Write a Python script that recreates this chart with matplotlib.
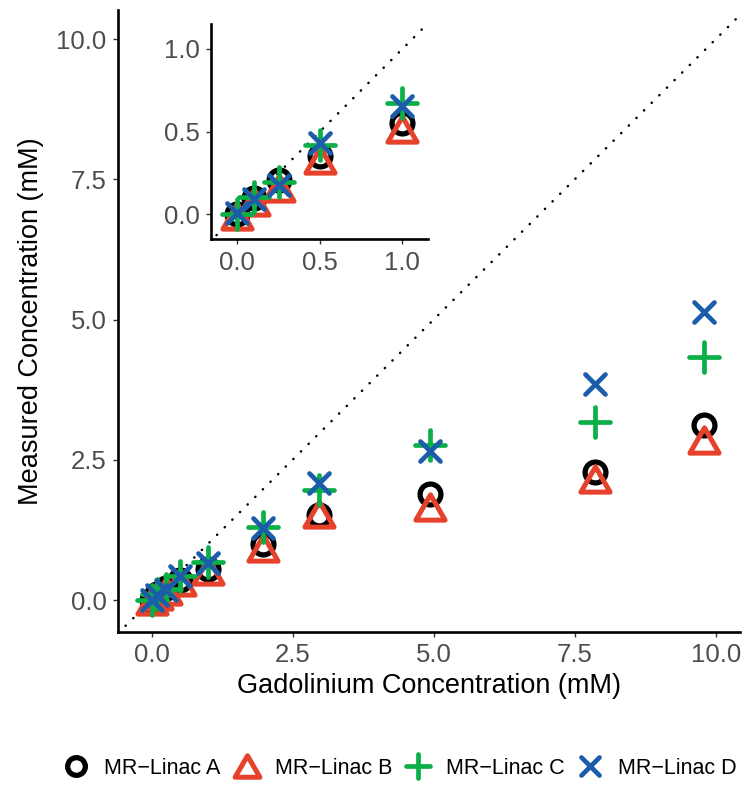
import matplotlib
matplotlib.use("Agg")
import matplotlib.pyplot as plt
from matplotlib.markers import MarkerStyle
from matplotlib.path import Path
import numpy as np

plt.rcParams['font.family'] = ['Liberation Sans', 'DejaVu Sans']

# ---- data ----
gd_conc = [0.0, 0.1, 0.25, 0.5, 1.0, 1.98, 2.96, 4.94, 7.86, 9.8]
linac_a = [0.0, 0.10, 0.21, 0.35, 0.55, 1.00, 1.52, 1.89, 2.28, 3.12]
linac_b = [-0.01, 0.076, 0.16, 0.33, 0.515, 0.93, 1.53, 1.65, 2.16, 2.86]
linac_c = [0.0, 0.106, 0.194, 0.42, 0.675, 1.31, 1.97, 2.76, 3.18, 4.33]
linac_d = [0.006, 0.09, 0.18, 0.43, 0.655, 1.28, 2.08, 2.66, 3.85, 5.13]
labels = ["MR\u2212Linac A", "MR\u2212Linac B", "MR\u2212Linac C", "MR\u2212Linac D"]
main_ticks = [0.0, 2.5, 5.0, 7.5, 10.0]
inset_ticks = [0.0, 0.5, 1.0]

colors = ["#000000", "#E5412B", "#0BAF47", "#1B5DAA"]

tri_path = Path([(0, 0.75), (-0.866, -0.75), (0.866, -0.75), (0, 0.75)],
                [Path.MOVETO, Path.LINETO, Path.LINETO, Path.CLOSEPOLY])
markers = [
    dict(marker=MarkerStyle('o'), ms=15, mew=3.8),
    dict(marker=MarkerStyle(tri_path, joinstyle='round'), ms=21, mew=3.6),
    dict(marker=MarkerStyle('+', capstyle='round'), ms=21, mew=3.4),
    dict(marker=MarkerStyle('x', capstyle='round'), ms=15, mew=3.4),
]
series = [linac_a, linac_b, linac_c, linac_d]

W, H = 743, 785
fig = plt.figure(figsize=(W / 100, H / 100), dpi=100)

TICK_FS = 18.5
TITLE_FS = 19.5


def px_axes(l, t, r, b):
    return fig.add_axes([l / W, 1 - b / H, (r - l) / W, (b - t) / H])


def style(ax):
    for s in ["top", "right"]:
        ax.spines[s].set_visible(False)
    for s in ["left", "bottom"]:
        ax.spines[s].set_linewidth(1.9)
        ax.spines[s].set_color("black")
    ax.tick_params(axis="both", length=3.6, width=1.0, color="#333333",
                   labelsize=TICK_FS, labelcolor="#4D4D4D", pad=4.5)


def draw(ax, lo, hi):
    ax.plot([lo, hi], [lo, hi], color="black", lw=1.8,
            dashes=(0.1, 4.2), dash_capstyle="round", zorder=1)
    handles = []
    for ys, c, m, lab in zip(series, colors, markers, labels):
        h, = ax.plot(gd_conc, ys, ls="none", color=c, mec=c, mfc="none",
                     marker=m["marker"], ms=m["ms"], mew=m["mew"],
                     label=lab, zorder=3, clip_on=True)
        handles.append(h)
    return handles


# main axes
ax = px_axes(118, 10, 740, 632)
style(ax)
handles = draw(ax, -1, 11)
ax.set_xlim(-0.594, 10.43)
ax.set_ylim(-0.57, 10.52)
ax.set_xticks(main_ticks)
ax.set_yticks(main_ticks)
ax.set_xticklabels([f"{t:.1f}" for t in main_ticks])
ax.set_yticklabels([f"{t:.1f}" for t in main_ticks])
ax.set_xlabel("Gadolinium Concentration (mM)", fontsize=TITLE_FS, labelpad=4)
ax.set_ylabel("Measured Concentration (mM)", fontsize=TITLE_FS, labelpad=9)

# inset axes
axi = px_axes(210.7, 24, 428.3, 239.3)
style(axi)
axi.set_facecolor("white")
draw(axi, -1, 2)
axi.set_xlim(-0.161, 1.157)
axi.set_ylim(-0.151, 1.151)
axi.set_xticks(inset_ticks)
axi.set_yticks(inset_ticks)
axi.set_xticklabels([f"{t:.1f}" for t in inset_ticks])
axi.set_yticklabels([f"{t:.1f}" for t in inset_ticks])

fig.legend(handles, labels, loc="center", ncol=4,
           bbox_to_anchor=(0.54, 1 - 768 / H), frameon=False,
           fontsize=15.5, handletextpad=0.8, columnspacing=0.7,
           handlelength=1.0, markerscale=0.85)

fig.savefig("out.png", dpi=100)
